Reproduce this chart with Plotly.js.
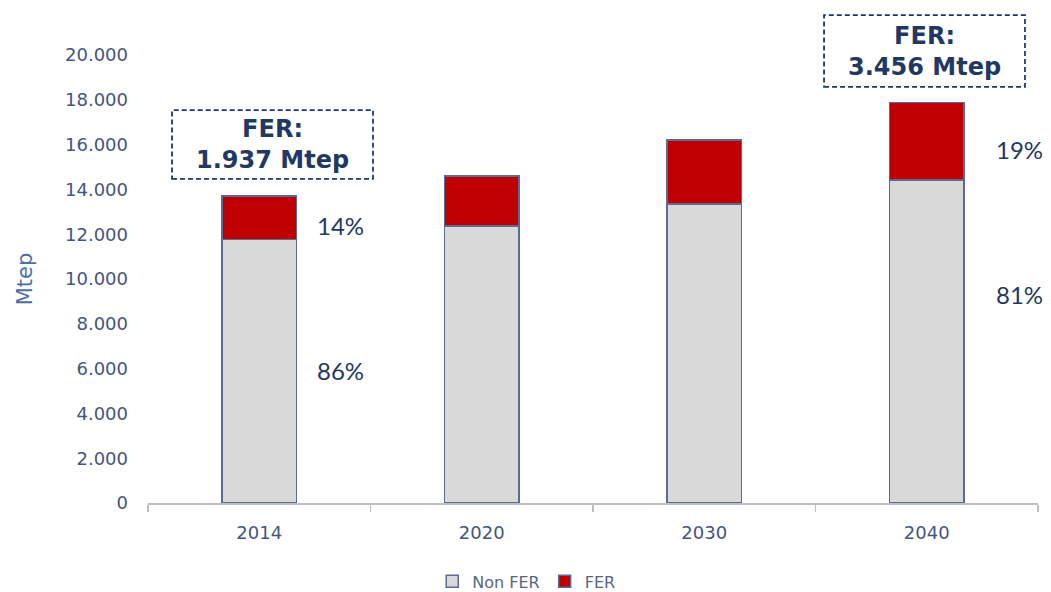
<!DOCTYPE html>
<html>
<head>
<meta charset="utf-8">
<script src="https://cdn.plot.ly/plotly-3.0.1.min.js"></script>
<style>html,body{margin:0;padding:0;background:#fff;}#chart{width:1051px;height:592px;}</style>
</head>
<body>
<div id="chart"></div>
<script>
const years = ['2014', '2020', '2030', '2040'];
const nonFer = [11770, 12370, 13350, 14420];
const fer = [1937, 2230, 2860, 3456];
const yTickVals = [0, 2000, 4000, 6000, 8000, 10000, 12000, 14000, 16000, 18000, 20000];
const shareLabels = [
  {year: '2014', text: '14%', at: 12370},
  {year: '2014', text: '86%', at: 5900},
  {year: '2040', text: '19%', at: 15760},
  {year: '2040', text: '81%', at: 9300}
];
const ferBoxes = [
  {text: 'FER:<br>1.937 Mtep', x0: 0.027, x1: 0.2528, y0: 0.7235, y1: 0.877},
  {text: 'FER:<br>3.456 Mtep', x0: 0.7596, x1: 0.9854, y0: 0.9287, y1: 1.089}
];

const tickColor = '#44557f';
const navy = '#1f3864';
const barLine = {color: '#5b6a96', width: 1.5};

const traces = [
  {type: 'bar', name: 'Non FER', x: years, y: nonFer, width: 0.333,
   marker: {color: '#d9d9d9', line: barLine}},
  {type: 'bar', name: 'FER', x: years, y: fer, width: 0.333,
   marker: {color: '#c00000', line: barLine}}
];

const annotations = shareLabels.map(s => ({
  x: years.indexOf(s.year), y: s.at, xref: 'x', yref: 'y', text: s.text, showarrow: false,
  xshift: s.year === '2014' ? 81 : 93,
  font: {family: 'Lato', size: 24, color: navy}
}));
const shapes = [];
ferBoxes.forEach(b => {
  shapes.push({type: 'rect', xref: 'paper', yref: 'paper', x0: b.x0, x1: b.x1, y0: b.y0, y1: b.y1,
    line: {color: navy, width: 1.8, dash: '5px,3px'}, fillcolor: 'rgba(0,0,0,0)'});
  annotations.push({xref: 'paper', yref: 'paper', x: (b.x0 + b.x1) / 2, y: (b.y0 + b.y1) / 2,
    text: '<b>' + b.text + '</b>', showarrow: false, xanchor: 'center', yanchor: 'middle',
    font: {family: 'DejaVu Sans', size: 24, color: navy}});
});

const layout = {
  width: 1051, height: 592,
  margin: {l: 148, r: 13, t: 55, b: 88.5, autoexpand: false},
  paper_bgcolor: '#fff', plot_bgcolor: '#fff',
  separators: ',.',
  barmode: 'stack',
  showlegend: true,
  legend: {orientation: 'h', x: 0.425, xanchor: 'center', y: -0.175, yanchor: 'middle',
    font: {family: 'DejaVu Sans', size: 16, color: '#5a6680'}, itemwidth: 30, traceorder: 'normal'},
  xaxis: {type: 'category', range: [-0.5, 3.5], autorange: false, showline: true, linecolor: '#bfbfbf', linewidth: 1.5,
    ticks: 'outside', tickson: 'boundaries', ticklen: 7, tickcolor: '#bfbfbf', tickwidth: 1.5,
    tickfont: {family: 'DejaVu Sans', size: 18, color: tickColor}, ticklabelstandoff: 13,
    showgrid: false, zeroline: false},
  yaxis: {range: [0, 20000], autorange: false, tickvals: yTickVals, tickformat: ',d', showgrid: false, zeroline: false,
    showline: false, ticks: '', ticklabelstandoff: 19,
    tickfont: {family: 'DejaVu Sans', size: 18, color: tickColor},
    title: {text: 'Mtep', font: {family: 'DejaVu Sans', size: 21, color: '#4a6fa8'}, standoff: 26}},
  shapes: shapes,
  annotations: annotations
};

Plotly.newPlot('chart', traces, layout, {displayModeBar: false, staticPlot: true});
</script>
</body>
</html>
